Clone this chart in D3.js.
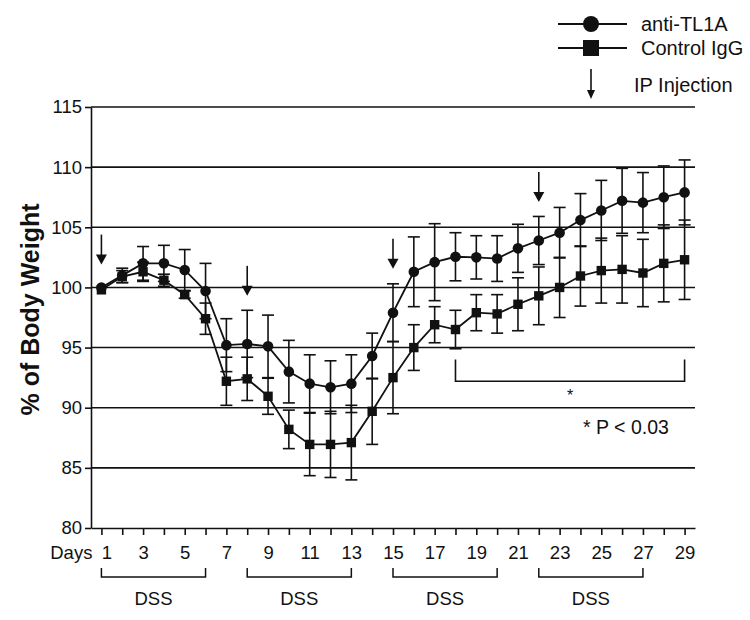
<!DOCTYPE html>
<html>
<head>
<meta charset="utf-8">
<script src="https://cdn.jsdelivr.net/npm/d3@7"></script>
<style>
  body { margin: 0; background: #fff; }
  svg { display: block; font-family: "Liberation Sans", Arial, sans-serif; }
</style>
</head>
<body>
<svg id="chart" width="750" height="620"></svg>
<script>
// ---- data ----
const days = d3.range(1, 30);
const antiTL1A = [100.0, 101.0, 102.0, 102.0, 101.45, 99.7, 95.2, 95.3, 95.1, 93.0,
                  92.0, 91.7, 92.0, 94.3, 97.9, 101.3, 102.1, 102.55, 102.5, 102.4,
                  103.25, 103.9, 104.55, 105.6, 106.4, 107.2, 107.05, 107.5, 107.9];
const antiTL1AErr = [0.0, 0.6, 1.4, 1.5, 1.7, 2.3, 2.2, 2.8, 2.6, 2.6,
                     2.4, 2.2, 2.4, 1.9, 2.4, 2.9, 3.2, 2.0, 1.8, 1.9,
                     2.0, 2.0, 2.1, 2.2, 2.5, 2.7, 2.5, 2.6, 2.7];
const controlIgG = [99.8, 100.9, 101.3, 100.6, 99.4, 97.4, 92.2, 92.4, 90.95, 88.2,
                    86.95, 86.95, 87.1, 89.7, 92.5, 95.0, 96.9, 96.5, 97.9, 97.8,
                    98.6, 99.3, 100.0, 100.95, 101.4, 101.5, 101.2, 102.0, 102.3];
const controlIgGErr = [0.0, 0.5, 0.8, 0.5, 0.3, 1.3, 2.0, 1.8, 1.5, 1.6,
                       2.6, 2.75, 3.1, 2.75, 3.0, 1.9, 1.5, 1.6, 1.5, 1.6,
                       2.2, 2.4, 2.5, 2.5, 2.7, 2.8, 2.8, 3.2, 3.3];
const yTicks = [80, 85, 90, 95, 100, 105, 110, 115];
const injectionDays = [1, 8, 15, 22];
const injectionTips = [101.9, 99.3, 101.55, 107.1];   // value where arrow tip points
const dssPeriods = [[1, 6], [8, 13], [15, 20], [22, 27]];
const sigRange = [18, 29];
const sigLevels = [94.0, 92.2];
const seriesNames = ["anti-TL1A", "Control IgG"];

// ---- layout ----
const svg = d3.select("#chart");
const x = d3.scaleLinear().domain([0.5, 29.5]).range([91, 695]);
const y = d3.scaleLinear().domain([80, 115]).range([528, 107]);
const ink = "#111";

// grid lines
svg.append("g").selectAll("line").data(yTicks.filter(v => v > 80)).join("line")
  .attr("x1", x.range()[0]).attr("x2", x.range()[1])
  .attr("y1", d => y(d)).attr("y2", d => y(d))
  .attr("stroke", ink).attr("stroke-width", 1.6);

// y axis
const yAxis = svg.append("g").attr("transform", `translate(${x.range()[0]},0)`)
  .call(d3.axisLeft(y).tickValues(yTicks).tickSize(6).tickSizeOuter(0).tickPadding(3));
yAxis.selectAll("path, line").attr("stroke", ink).attr("stroke-width", 1.6);
yAxis.selectAll("text").attr("font-size", 18.5).attr("fill", ink)
  .style("font-family", "Liberation Sans, Arial, sans-serif");

// x axis
const xAxis = svg.append("g").attr("transform", `translate(0,${y(80)})`)
  .call(d3.axisBottom(x).tickValues(days).tickSize(7).tickSizeOuter(0).tickPadding(11)
    .tickFormat(d => d % 2 === 1 ? d : ""));
xAxis.selectAll("path, line").attr("stroke", ink).attr("stroke-width", 1.6);
xAxis.selectAll("text").attr("font-size", 18.5).attr("fill", ink)
  .style("font-family", "Liberation Sans, Arial, sans-serif");
xAxis.selectAll(".tick").filter(d => d === 1).select("text").attr("dx", 5);
svg.append("text").attr("x", x(1) - 9).attr("y", y(80) + 18 + 13)
  .attr("text-anchor", "end").attr("font-size", 18.5).attr("fill", ink).text("Days");

// y title
svg.append("text")
  .attr("transform", `translate(39,${(y(80) + y(115)) / 2 - 8}) rotate(-90)`)
  .attr("text-anchor", "middle").attr("font-size", 25).attr("font-weight", "bold")
  .attr("fill", ink).text("% of Body Weight");

// DSS brackets
const dss = svg.append("g");
dssPeriods.forEach(p => {
  const yb = y(80) + 49;
  dss.append("path")
    .attr("d", `M${x(p[0])},${yb - 9}V${yb}H${x(p[1])}V${yb - 9}`)
    .attr("fill", "none").attr("stroke", ink).attr("stroke-width", 1.5);
  dss.append("text").attr("x", (x(p[0]) + x(p[1])) / 2).attr("y", yb + 28)
    .attr("text-anchor", "middle").attr("font-size", 18.5).attr("fill", ink).text("DSS");
});

// series
const series = [
  { name: seriesNames[0], vals: antiTL1A, err: antiTL1AErr, shape: "circle" },
  { name: seriesNames[1], vals: controlIgG, err: controlIgGErr, shape: "square" }
];
const line = d3.line().x((d, i) => x(days[i])).y(d => y(d));

series.forEach(s => {
  const g = svg.append("g");
  s.vals.forEach((v, i) => {
    const e = s.err[i];
    if (e <= 0) return;
    const cx = x(days[i]);
    g.append("line").attr("x1", cx).attr("x2", cx)
      .attr("y1", y(v - e)).attr("y2", y(v + e))
      .attr("stroke", ink).attr("stroke-width", 1.6);
    [v - e, v + e].forEach(t => {
      g.append("line").attr("x1", cx - 6).attr("x2", cx + 6)
        .attr("y1", y(t)).attr("y2", y(t))
        .attr("stroke", ink).attr("stroke-width", 1.6);
    });
  });
  g.append("path").datum(s.vals).attr("d", line)
    .attr("fill", "none").attr("stroke", ink).attr("stroke-width", 1.8);
  if (s.shape === "circle") {
    g.selectAll("circle").data(s.vals).join("circle")
      .attr("cx", (d, i) => x(days[i])).attr("cy", d => y(d)).attr("r", 5.3).attr("fill", ink);
  } else {
    g.selectAll("rect").data(s.vals).join("rect")
      .attr("x", (d, i) => x(days[i]) - 4.7).attr("y", d => y(d) - 4.7)
      .attr("width", 9.4).attr("height", 9.4).attr("fill", ink);
  }
});

// injection arrows
function arrow(g, ax, yTip, len, hw, hh) {
  g.append("line").attr("x1", ax).attr("x2", ax).attr("y1", yTip - len).attr("y2", yTip - hh + 1)
    .attr("stroke", ink).attr("stroke-width", 1.6);
  g.append("path").attr("d", `M${ax - hw},${yTip - hh}L${ax + hw},${yTip - hh}L${ax},${yTip}Z`)
    .attr("fill", ink);
}
const arrows = svg.append("g");
injectionDays.forEach((d, i) => arrow(arrows, x(d), y(injectionTips[i]), 30, 5.5, 10));

// significance bracket
svg.append("path")
  .attr("d", `M${x(sigRange[0])},${y(sigLevels[0])}V${y(sigLevels[1])}H${x(sigRange[1])}V${y(sigLevels[0])}`)
  .attr("fill", "none").attr("stroke", ink).attr("stroke-width", 1.6);
svg.append("text").attr("x", (x(sigRange[0]) + x(sigRange[1])) / 2).attr("y", y(sigLevels[1]) + 20)
  .attr("text-anchor", "middle").attr("font-size", 16).attr("fill", ink).text("*");
svg.append("text").attr("x", 583).attr("y", 434)
  .attr("font-size", 19.5).attr("fill", ink).text("* P < 0.03");

// legend
const lg = svg.append("g");
[24, 48].forEach((ly, i) => {
  lg.append("line").attr("x1", 558).attr("x2", 627).attr("y1", ly).attr("y2", ly)
    .attr("stroke", ink).attr("stroke-width", 1.8);
  if (i === 0) lg.append("circle").attr("cx", 591).attr("cy", ly).attr("r", 8).attr("fill", ink);
  else lg.append("rect").attr("x", 583).attr("y", ly - 8).attr("width", 16).attr("height", 16).attr("fill", ink);
  lg.append("text").attr("x", 641).attr("y", ly).attr("dy", "0.35em")
    .attr("font-size", 20).attr("fill", ink).text(seriesNames[i]);
});
arrow(lg, 591, 99, 30, 4, 9);
lg.append("text").attr("x", 634).attr("y", 85).attr("dy", "0.35em")
  .attr("font-size", 20).attr("fill", ink).text("IP Injection");
</script>
</body>
</html>
